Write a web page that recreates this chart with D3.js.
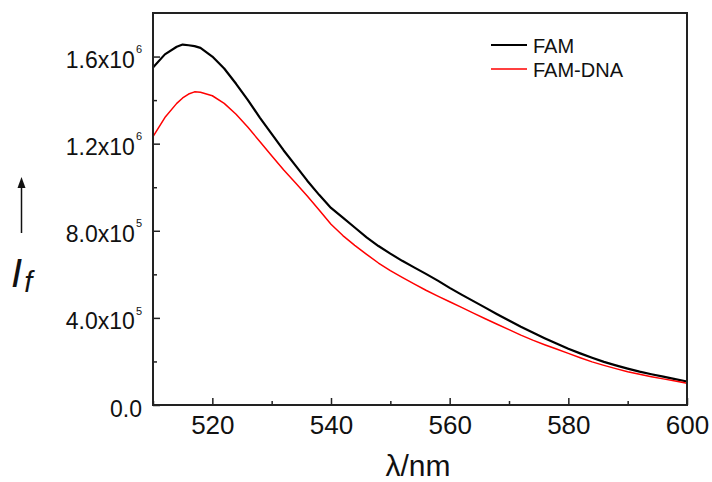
<!DOCTYPE html>
<html>
<head>
<meta charset="utf-8">
<script src="https://cdn.jsdelivr.net/npm/d3@7/dist/d3.min.js"></script>
<style>
  html, body { margin: 0; padding: 0; background: #fff; }
  svg { display: block; font-family: "Liberation Sans", Arial, sans-serif; }
</style>
</head>
<body>
<svg id="chart" width="712" height="482"></svg>
<script>
// ---- data ----
const wavelength = [510,512,514,515,516,517,518,520,522,524,526,528,530,532,534,536,538,540,542,544,546,548,550,552,554,556,558,560,562,564,566,568,570,572,574,576,578,580,582,584,586,588,590,592,594,596,598,600];
const famValues = [1.55,1.61,1.645,1.655,1.652,1.648,1.64,1.60,1.545,1.475,1.40,1.32,1.245,1.17,1.10,1.03,0.965,0.905,0.86,0.815,0.77,0.73,0.695,0.662,0.632,0.602,0.571,0.538,0.507,0.477,0.447,0.417,0.388,0.359,0.333,0.307,0.282,0.258,0.237,0.217,0.198,0.182,0.167,0.153,0.141,0.13,0.119,0.108];
const famDnaValues = [1.232,1.32,1.385,1.41,1.428,1.438,1.436,1.42,1.385,1.335,1.275,1.21,1.145,1.08,1.02,0.96,0.895,0.83,0.778,0.733,0.692,0.652,0.617,0.586,0.556,0.527,0.5,0.474,0.448,0.422,0.396,0.371,0.346,0.321,0.298,0.277,0.257,0.237,0.217,0.198,0.182,0.167,0.153,0.141,0.13,0.12,0.11,0.1];
const seriesNames = ["FAM", "FAM-DNA"];
const seriesColors = ["#000000", "#ff0000"];
const xTicks = [520, 540, 560, 580, 600];
const xMinorTicks = [510, 530, 550, 570, 590];
const yTicks = [0, 0.4e6, 0.8e6, 1.2e6, 1.6e6];
const yTickLabels = [["0.0", ""], ["4.0x10", "5"], ["8.0x10", "5"], ["1.2x10", "6"], ["1.6x10", "6"]];
const yMinorTicks = [0.2e6, 0.6e6, 1.0e6, 1.4e6];

// ---- layout ----
const L = 153, R = 687, T = 13, B = 405;
const svg = d3.select("#chart");
const x = d3.scaleLinear().domain([510, 600]).range([L, R]);
const y = d3.scaleLinear().domain([0, 1.8e6]).range([B, T]);

// curves
const line = d3.line().x(d => x(d[0])).y(d => y(d[1] * 1e6));
const series = [famValues, famDnaValues];
const widths = [2.2, 1.5];
series.forEach((vals, i) => {
  svg.append("path")
    .datum(wavelength.map((w, j) => [w, vals[j]]))
    .attr("fill", "none")
    .attr("stroke", seriesColors[i])
    .attr("stroke-width", widths[i])
    .attr("stroke-linejoin", "round")
    .attr("d", line);
});

// axes
const xAxis = svg.append("g").attr("transform", `translate(0,${B})`)
  .call(d3.axisBottom(x).tickValues(xTicks).tickSize(-7).tickPadding(11).tickFormat(d3.format("d")));
svg.append("g").attr("transform", `translate(0,${B})`)
  .call(d3.axisBottom(x).tickValues(xMinorTicks).tickSize(-4).tickFormat(""));
const yAxis = svg.append("g").attr("transform", `translate(${L},0)`)
  .call(d3.axisLeft(y).tickValues(yTicks).tickSize(-7).tickPadding(11).tickFormat(""));
svg.append("g").attr("transform", `translate(${L},0)`)
  .call(d3.axisLeft(y).tickValues(yMinorTicks).tickSize(-4).tickFormat(""));

svg.selectAll(".domain").remove();
svg.selectAll(".tick line").attr("stroke", "#222").attr("stroke-width", 1.5);

xAxis.selectAll("text").attr("font-size", 26).attr("fill", "#111")
  .attr("font-family", "'Liberation Sans', Arial, sans-serif");

yAxis.selectAll(".tick text").each(function(d, i) {
  const t = d3.select(this);
  t.text(null).attr("font-size", 23).attr("fill", "#111")
    .attr("font-family", "'Liberation Sans', Arial, sans-serif")
    .attr("dy", "0.48em").attr("x", -11);
  const lab = yTickLabels[i];
  t.append("tspan").text(lab[0]);
  if (lab[1]) t.append("tspan").attr("font-size", 11).attr("dy", "-1.35em").attr("dx", "1").text(lab[1]);
});

// frame
svg.append("rect").attr("x", L).attr("y", T).attr("width", R - L).attr("height", B - T)
  .attr("fill", "none").attr("stroke", "#222").attr("stroke-width", 2);

// legend
const legendY = [45, 69];
seriesNames.forEach((name, i) => {
  svg.append("line").attr("x1", 491).attr("x2", 527).attr("y1", legendY[i]).attr("y2", legendY[i])
    .attr("stroke", seriesColors[i]).attr("stroke-width", i === 0 ? 2.2 : 1.5);
  svg.append("text").attr("x", 533).attr("y", legendY[i] + 7.5).attr("font-size", 20)
    .attr("fill", "#111").text(name);
});

// axis titles
svg.append("text").attr("x", 418).attr("y", 476).attr("text-anchor", "middle")
  .attr("font-size", 30).attr("fill", "#111").text("λ/nm");

const yt = svg.append("text").attr("x", 11).attr("y", 287).attr("fill", "#111")
  .attr("font-style", "italic");
yt.append("tspan").attr("font-size", 40).text("I");
yt.append("tspan").attr("font-size", 29).attr("dy", 5).attr("dx", 2).text("f");

// arrow
svg.append("line").attr("x1", 21.5).attr("x2", 21.5).attr("y1", 233).attr("y2", 182)
  .attr("stroke", "#111").attr("stroke-width", 1.5);
svg.append("path").attr("d", "M21.5,177 L17.5,188 L25.5,188 Z").attr("fill", "#111");
</script>
</body>
</html>
